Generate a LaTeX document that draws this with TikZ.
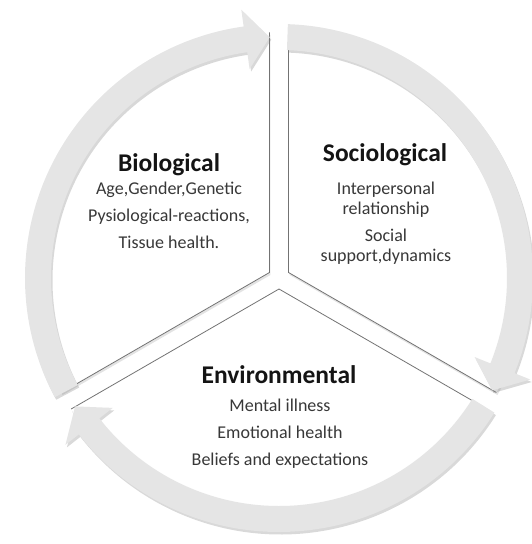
\documentclass[tikz,border=0pt]{standalone}
\usepackage{fontspec}
\setmainfont{Carlito}
\usetikzlibrary{shadows}

\begin{document}
\begin{tikzpicture}[
    x=1pt, y=1pt,
    wedge/.style={fill=white, drop shadow={opacity=.22, shadow xshift=1pt, shadow yshift=-2.5pt}},
    edgeline/.style={draw=black!55, line width=.8pt},
    band/.style={fill=black!10, drop shadow={opacity=.3, shadow xshift=1.5pt, shadow yshift=-2.5pt}},
    title/.style={font=\fontsize{25.5}{28}\selectfont\bfseries, text=black!92, anchor=base, inner sep=0},
    body/.style={font=\fontsize{18}{20}\selectfont, text=black!78, align=center, anchor=north, inner sep=0}
]
\useasboundingbox (-279,-266) rectangle (253,278);

% exploded wedges
\foreach \k in {0,1,2} {
  \begin{scope}[rotate=-120*\k]
    \coordinate (apex) at (150:11pt);
    \fill[wedge] (apex) -- ++(90:240pt) arc[start angle=90, end angle=210, radius=240pt] -- cycle;
    \draw[edgeline] (apex) ++(90:240pt) -- (apex) -- ++(210:240pt);
  \end{scope}
}

% ring of arrows
\foreach \k in {0,1,2} {
  \begin{scope}[rotate=-120*\k]
    \fill[band] (208:228pt) arc[start angle=208, end angle=98, radius=228pt]
      -- (98:211pt) -- (92.2:241pt) -- (98:271pt) -- (98:254pt)
      arc[start angle=98, end angle=208, radius=254pt] -- cycle;
  \end{scope}
}

\node[title] (bio) at (-110,106) {Biological};
\node[body] (biotext) at (-110,96.6) {Age,Gender,Genetic\\[7pt]Pysiological-reactions,\\[7pt]Tissue health.};

\node[title] (soc) at (106,116) {Sociological};
\node[body] (soctext) at (107,96.6) {Interpersonal\\relationship\\[7pt]Social\\support,dynamics};

\node[title] (env) at (0,-105) {Environmental};
\node[body] (envtext) at (1,-120.4) {Mental illness\\[7pt]Emotional health\\[7pt]Beliefs and expectations};

\end{tikzpicture}
\end{document}
